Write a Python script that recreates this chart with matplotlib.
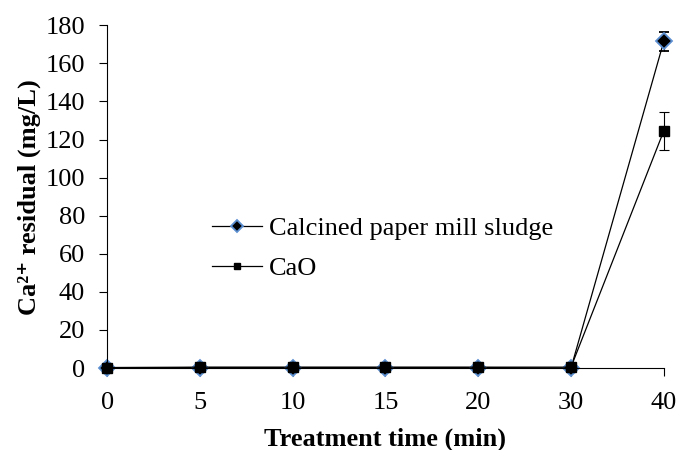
import numpy as np
import matplotlib
matplotlib.use("Agg")
import matplotlib.pyplot as plt
from matplotlib.lines import Line2D

# treatment times are plotted as evenly spaced categories
times = ["0", "5", "10", "15", "20", "30", "40"]
sludge = [0.0, 0.3, 0.3, 0.3, 0.3, 0.0, 171.5]
sludge_err = [0, 0, 0, 0, 0, 0, 5]
cao = [0.3, 0.5, 0.5, 0.5, 0.5, 0.5, 124.5]
cao_err = [0, 0, 0, 0, 0, 0, 10]

plt.rcParams["font.family"] = ["Liberation Serif", "DejaVu Serif"]

fig = plt.figure(figsize=(6.78, 4.5), dpi=100)
ax = fig.add_axes([0.158, 0.182, 0.821, 0.762])

x = np.arange(len(times))
sludge_style = dict(color="black", linewidth=0.9, marker="D", markersize=8,
                    markerfacecolor="black", markeredgecolor="#5b8fd0",
                    markeredgewidth=1.3)
cao_style = dict(color="black", linewidth=0.9, marker="s", markersize=7,
                 markerfacecolor="black", markeredgecolor="black")

for vals, errs, style in [(sludge, sludge_err, sludge_style), (cao, cao_err, cao_style)]:
    cont = ax.errorbar(x, vals, yerr=errs, capsize=3.5, elinewidth=0.8,
                       capthick=0.8, **style)
    for art in cont.lines[1] + cont.lines[2]:
        art.set_clip_on(False)
    cont.lines[0].set_clip_on(False)

ax.set_xlim(0, 6)
ax.set_ylim(0, 180)
ax.set_xticks(x)
ax.set_xticklabels(times)
ax.set_yticks(np.arange(0, 181, 20))
ax.tick_params(labelsize=19, direction="out", length=6, width=0.8)
ax.tick_params(axis="x", pad=11)
ax.tick_params(axis="y", pad=10)
for s in ["top", "right"]:
    ax.spines[s].set_visible(False)
for s in ["left", "bottom"]:
    ax.spines[s].set_linewidth(0.8)

ax.set_xlabel("Treatment time (min)", fontsize=19, fontweight="bold", labelpad=10)
ax.set_ylabel("Ca\u00b2\u207a residual (mg/L)", fontsize=19,
              fontweight="bold", labelpad=3)

handles = [Line2D([], [], **sludge_style), Line2D([], [], **cao_style)]
handles[0].set_markersize(6)
handles[1].set_markersize(5)
ax.legend(handles, ["Calcined paper mill sludge", "CaO"], loc="upper left",
          bbox_to_anchor=(0.145, 0.51), frameon=False, fontsize=19,
          handlelength=1.9, handletextpad=0.27, labelspacing=0.6)

fig.savefig("out.png", dpi=100)
